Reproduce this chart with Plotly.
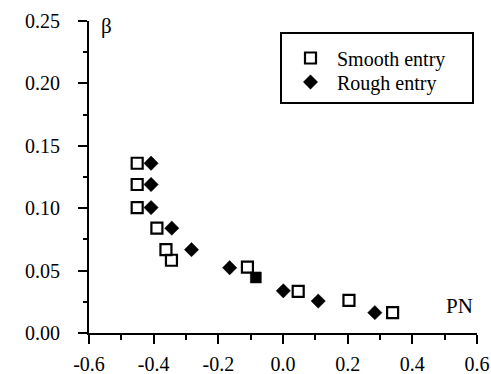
import plotly.graph_objects as go

# ---- data ----
smooth_pn = [-0.451, -0.451, -0.451, -0.390, -0.362, -0.345, -0.110, 0.047, 0.204, 0.339]
smooth_beta = [0.136, 0.119, 0.1005, 0.0840, 0.0668, 0.0583, 0.0528, 0.0334, 0.0262, 0.0163]

rough_pn = [-0.408, -0.408, -0.408, -0.344, -0.283, -0.165, -0.084, 0.001, 0.109, 0.284]
rough_beta = [0.136, 0.119, 0.1005, 0.0840, 0.0668, 0.0523, 0.0445, 0.0338, 0.0256, 0.0163]

x_ticks = [-0.6, -0.4, -0.2, 0.0, 0.2, 0.4, 0.6]
x_ticktext = ["-0.6", "-0.4", "-0.2", "0.0", "0.2", "0.4", "0.6"]
y_ticks = [0.0, 0.05, 0.10, 0.15, 0.20, 0.25]
y_ticktext = ["0.00", "0.05", "0.10", "0.15", "0.20", "0.25"]

FONT = "'Liberation Serif', 'Times New Roman', Times, 'DejaVu Serif', serif"

rough_symbols = ["diamond"] * len(rough_pn)
rough_symbols[6] = "square"

fig = go.Figure()
fig.add_trace(go.Scatter(
    x=smooth_pn, y=smooth_beta, mode="markers", name="Smooth entry", legend="legend",
    marker=dict(symbol="square-open", size=11, color="black", line=dict(width=2.2, color="black")),
))
fig.add_trace(go.Scatter(
    x=rough_pn, y=rough_beta, mode="markers", name="Rough entry", legend="legend2",
    marker=dict(symbol=rough_symbols, size=11, color="black", line=dict(width=0.5, color="black")),
))

axis_common = dict(
    showline=True, linecolor="black", linewidth=2, mirror=False,
    ticks="outside", tickcolor="black", tickwidth=2, ticklen=9,
    showgrid=False, zeroline=False, automargin=False,
    tickfont=dict(family=FONT, size=20, color="black"),
)

fig.update_xaxes(
    range=[-0.6, 0.6], tickvals=x_ticks, ticktext=x_ticktext,
    ticklabelstandoff=3,
    minor=dict(ticks="outside", ticklen=5, tickwidth=2, tickcolor="black", dtick=0.1, showgrid=False),
    **axis_common,
)
fig.update_yaxes(
    range=[0, 0.25], tickvals=y_ticks, ticktext=y_ticktext,
    ticklabelstandoff=14,
    minor=dict(ticks="outside", ticklen=4, tickwidth=2, tickcolor="black", dtick=0.025, showgrid=False),
    **axis_common,
)

# legend box
fig.add_shape(type="rect", xref="paper", yref="paper",
              x0=(281 - 89) / 388, x1=(473 - 89) / 388,
              y0=(333 - 103) / 312, y1=(333 - 33) / 312,
              line=dict(color="black", width=2), fillcolor="rgba(0,0,0,0)")

fig.add_annotation(text="β", xref="paper", yref="paper", x=(106 - 89) / 388, y=(333 - 26) / 312,
                   showarrow=False, font=dict(family=FONT, size=21, color="black"),
                   xanchor="center", yanchor="middle")
fig.add_annotation(text="PN", xref="paper", yref="paper", x=(459 - 89) / 388, y=(333 - 305.5) / 312,
                   showarrow=False, font=dict(family=FONT, size=21, color="black"),
                   xanchor="center", yanchor="middle")

leg_common = dict(
    xanchor="left", yanchor="middle",
    bgcolor="rgba(0,0,0,0)", borderwidth=0,
    font=dict(family=FONT, size=20, color="black"),
    itemwidth=43,
)

fig.update_layout(
    width=491, height=374,
    margin=dict(l=89, r=14, t=21, b=41),
    paper_bgcolor="white", plot_bgcolor="white",
    font=dict(family=FONT, size=20, color="black"),
    showlegend=True,
    legend=dict(x=(284 - 89) / 388, y=(333 - 58) / 312, **leg_common),
    legend2=dict(x=(284 - 89) / 388, y=(333 - 82) / 312, **leg_common),
)

fig.write_html("out.html")
